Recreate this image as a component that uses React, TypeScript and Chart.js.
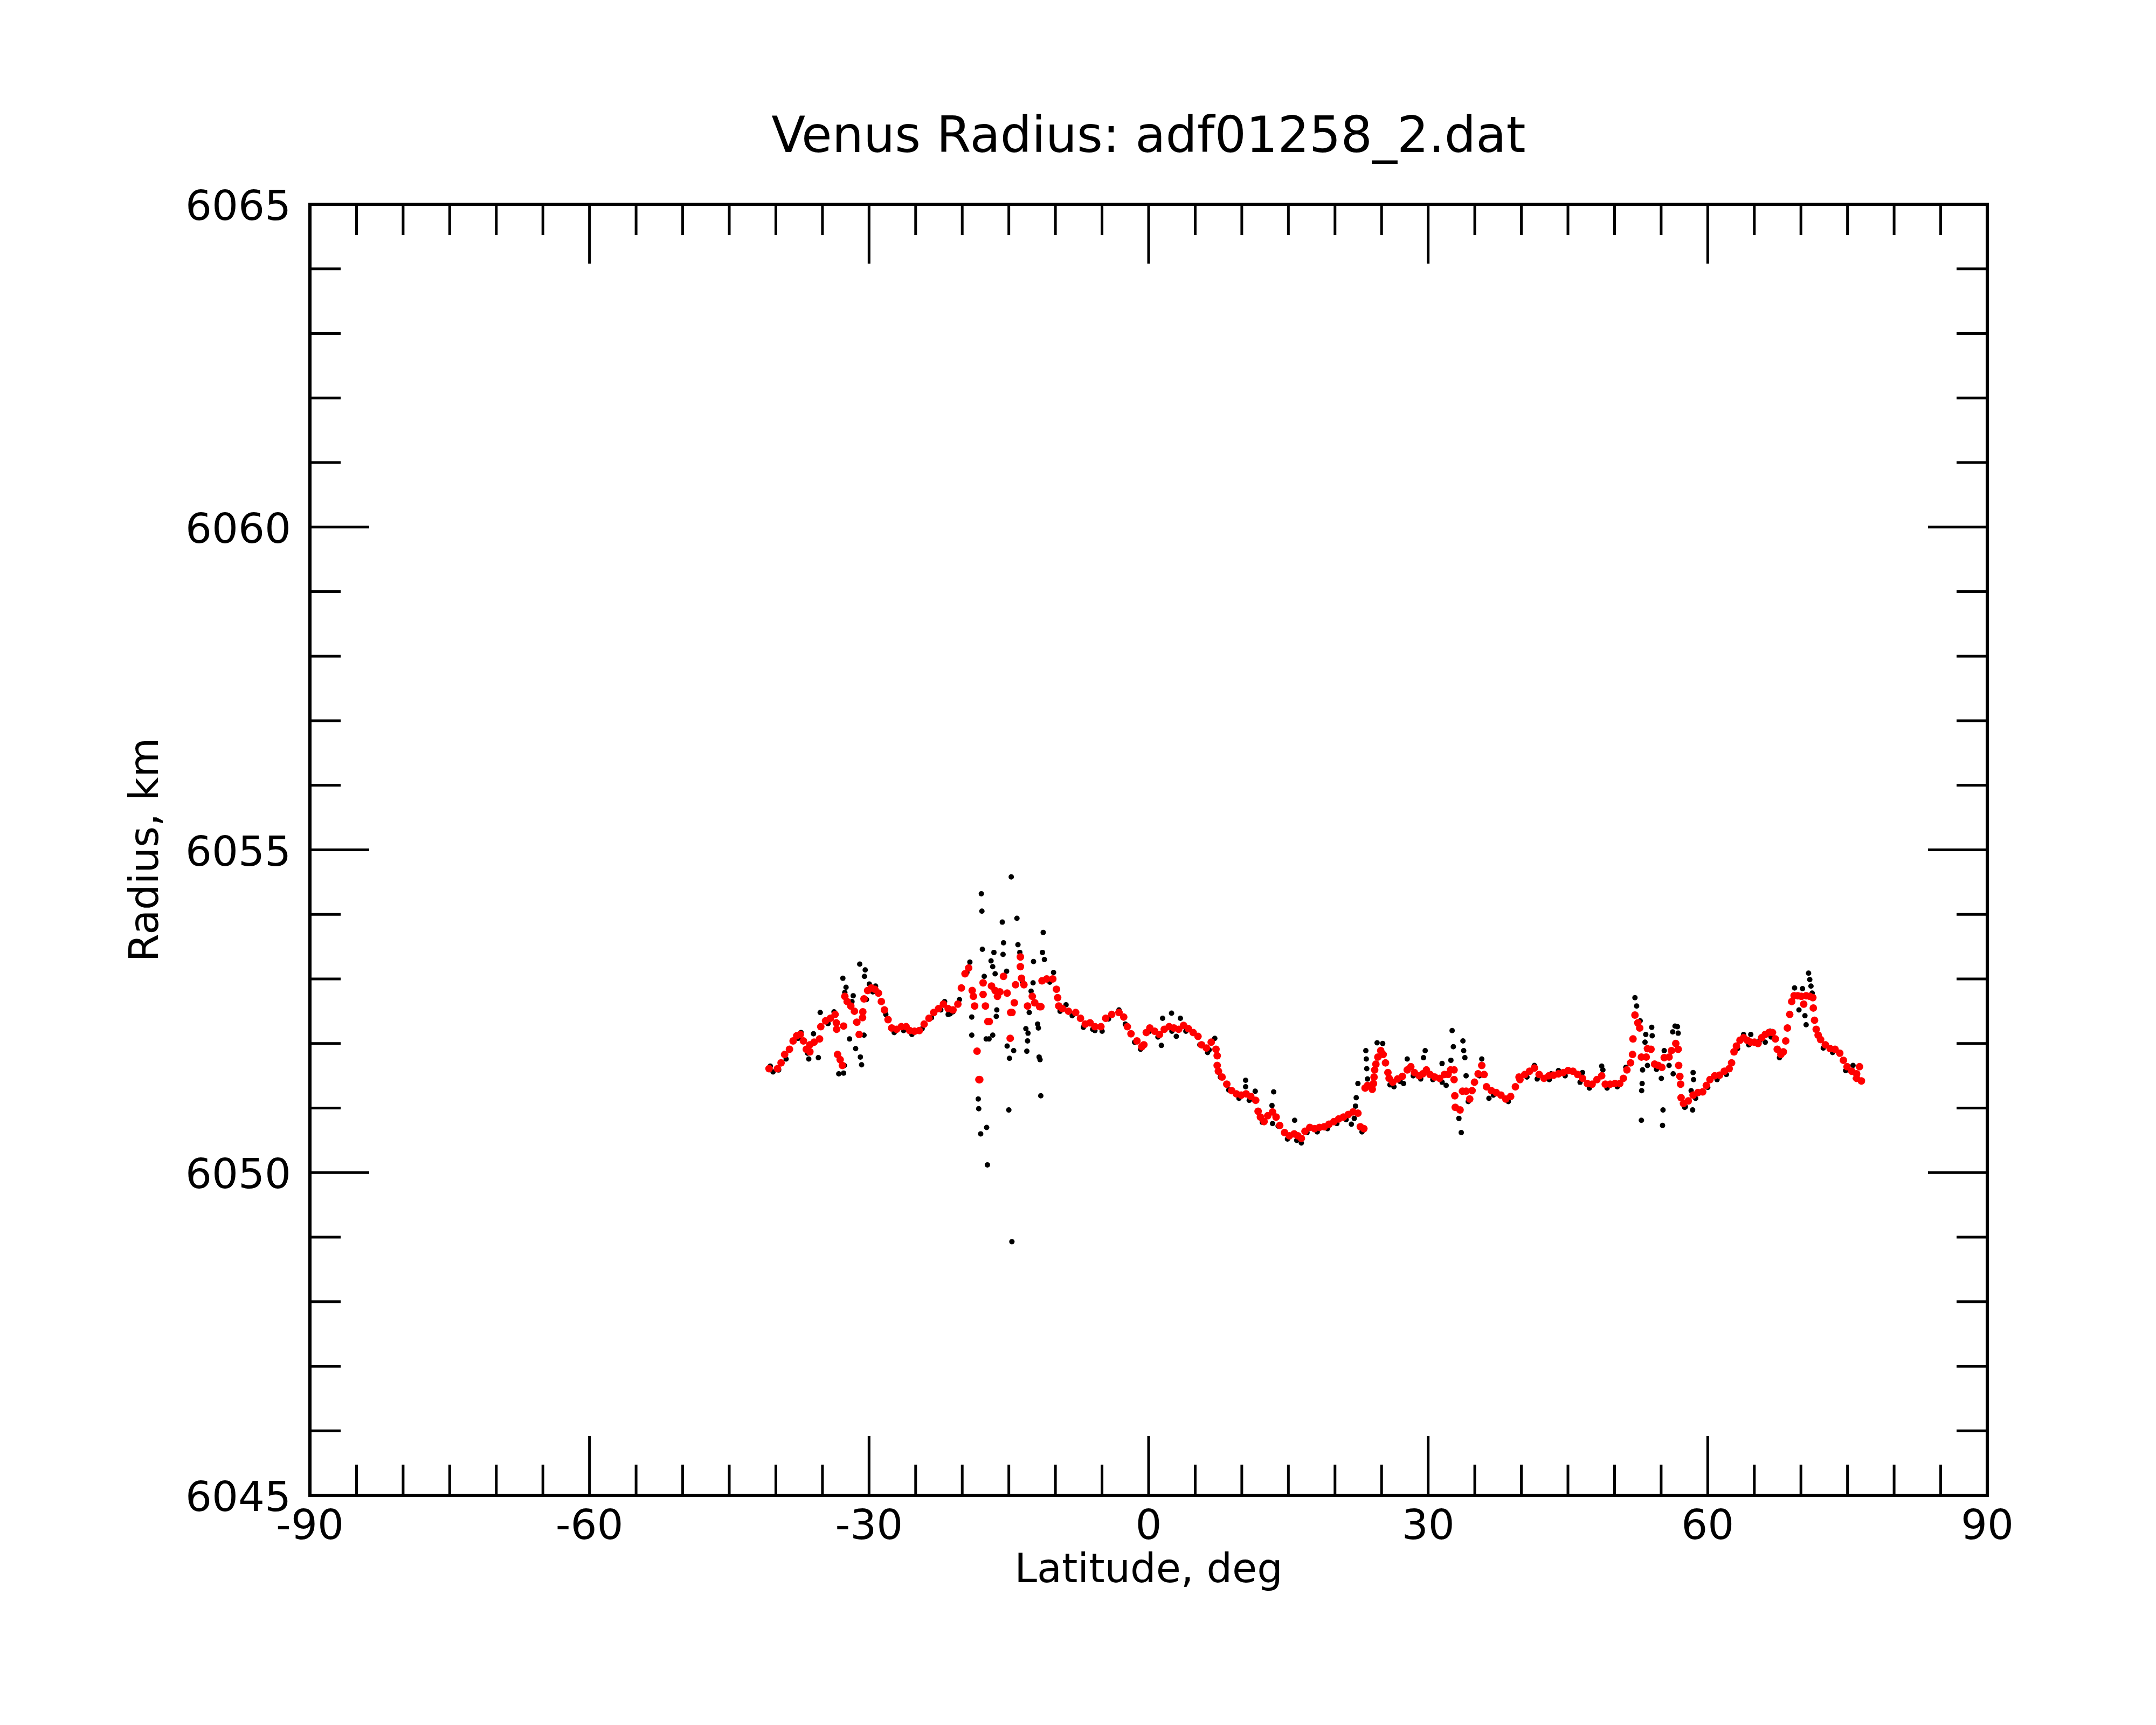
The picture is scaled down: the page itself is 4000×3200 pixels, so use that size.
import { useEffect, useRef } from "react";
import { Chart, registerables } from "chart.js";

Chart.register(...registerables);

const TITLE = "Venus Radius: adf01258_2.dat";
const X_TITLE = "Latitude, deg";
const Y_TITLE = "Radius, km";

const X_MAJOR = [-90, -60, -30, 0, 30, 60, 90];
const X_MINOR_STEP = 5;
const Y_MAJOR = [6045, 6050, 6055, 6060, 6065];
const Y_MINOR_STEP = 1;

// raw radius samples (black) [latitude, radius]
const RAW: [number, number][] = [
  [-40.6, 6051.65], [-39.7, 6051.59], [-37.3, 6052.17], [-36.47, 6051.76], [-35.44, 6051.78],
  [-35.96, 6052.15], [-35.24, 6052.48], [-33.76, 6052.49], [-32.81, 6053.01], [-32.47, 6052.87],
  [-32.6, 6052.79], [-31.7, 6052.74], [-31.83, 6052.65], [-31.0, 6053.23], [-30.41, 6053.14],
  [-30.49, 6053.04], [-29.97, 6052.92], [-29.3, 6052.89], [-32.09, 6052.07], [-31.44, 6051.92],
  [-30.93, 6051.79], [-30.8, 6051.67], [-33.25, 6051.53], [-32.73, 6051.54], [-32.65, 6051.66],
  [-31.44, 6052.33], [-30.54, 6052.13], [-30.28, 6052.68], [-21.89, 6052.65], [-21.51, 6052.45],
  [-20.99, 6052.49], [-19.18, 6053.26], [-17.95, 6054.32], [-17.89, 6054.05], [-17.84, 6053.46],
  [-18.98, 6052.41], [-18.98, 6052.13], [-18.28, 6051.14], [-18.23, 6050.99], [-17.38, 6050.7],
  [-18.02, 6050.6], [-17.3, 6050.12], [-17.64, 6053.04], [-17.43, 6052.07], [-17.12, 6052.07],
  [-16.73, 6052.13], [-16.6, 6053.41], [-16.91, 6053.28], [-16.73, 6053.19], [-16.47, 6053.08],
  [-15.7, 6053.88], [-15.57, 6053.56], [-15.62, 6053.38], [-15.24, 6053.12], [-16.29, 6052.52],
  [-16.35, 6052.42], [-15.18, 6051.96], [-14.93, 6051.77], [-14.48, 6051.89], [-15.0, 6050.97],
  [-14.74, 6054.58], [-14.13, 6053.94], [-14.02, 6053.53], [-13.82, 6053.41], [-13.51, 6052.95],
  [-13.17, 6052.23], [-12.94, 6052.16], [-12.99, 6052.04], [-13.07, 6051.88], [-12.81, 6052.48],
  [-12.61, 6052.81], [-12.4, 6052.94], [-12.35, 6053.27], [-14.67, 6048.93], [-11.91, 6052.3],
  [-11.83, 6052.24], [-11.75, 6051.79], [-11.65, 6051.75], [-11.57, 6051.19], [-11.31, 6053.72],
  [-11.39, 6053.41], [-11.18, 6053.3], [-10.2, 6053.1], [-8.86, 6052.6], [-5.76, 6052.2],
  [-4.99, 6052.19], [-3.18, 6052.52], [-0.86, 6051.91],
  [1.5, 6052.39], [2.46, 6052.47], [1.37, 6051.97], [3.41, 6052.39], [2.97, 6052.11],
  [6.33, 6051.86], [7.1, 6052.08], [10.41, 6051.43], [10.41, 6051.33], [11.44, 6051.26],
  [13.42, 6051.25], [13.24, 6051.04], [13.3, 6050.76], [15.67, 6050.81], [16.39, 6050.46],
  [21.76, 6050.75], [22.07, 6050.84], [22.46, 6051.38], [22.28, 6051.16], [22.2, 6051.03],
  [23.31, 6051.89], [23.36, 6051.76], [23.41, 6051.61], [23.49, 6051.45], [24.52, 6052.01],
  [25.12, 6052.0], [26.33, 6051.33], [27.75, 6051.76], [27.36, 6051.38], [29.68, 6051.89],
  [29.5, 6051.78], [31.49, 6051.69], [31.93, 6051.35], [32.57, 6052.2], [32.7, 6051.95],
  [32.44, 6051.74], [33.73, 6052.04], [33.81, 6051.89], [33.94, 6051.78], [34.07, 6051.5],
  [33.3, 6050.84], [33.55, 6050.62], [35.75, 6051.76], [36.52, 6051.15],
  [41.4, 6051.66], [43.2, 6051.53], [43.98, 6051.58], [46.56, 6051.55], [48.62, 6051.65],
  [48.75, 6051.59], [51.21, 6051.63], [52.19, 6052.71], [52.37, 6052.58], [52.75, 6052.35],
  [53.35, 6052.14], [53.99, 6052.25], [54.04, 6052.12], [53.27, 6052.02], [53.53, 6051.66],
  [53.01, 6051.59], [52.96, 6051.38], [52.91, 6051.27], [52.88, 6050.81], [55.2, 6050.97],
  [55.15, 6050.73], [55.02, 6051.46], [55.33, 6051.89], [55.85, 6051.66], [56.29, 6051.53],
  [56.49, 6052.27], [56.75, 6052.26], [56.83, 6052.16], [56.24, 6052.18], [58.43, 6051.55],
  [58.48, 6051.44], [58.38, 6050.97], [58.22, 6051.27], [57.53, 6051.01], [63.85, 6052.14],
  [64.62, 6052.14], [66.17, 6052.02], [66.69, 6052.19], [69.32, 6052.86], [70.17, 6052.85],
  [70.82, 6053.09], [70.95, 6052.99], [71.08, 6052.89], [69.79, 6052.52], [70.43, 6052.43],
  [70.56, 6052.29], [71.21, 6052.78], [75.59, 6051.66], [75.85, 6051.46],
  // raw samples lying just under the filtered curve
  [-40.3, 6051.56], [-38.9, 6051.76], [-37.6, 6052.08], [-36.6, 6051.85], [-34.4, 6052.31],
  [-29.6, 6052.8], [-28.2, 6052.45], [-27.3, 6052.17], [-26.3, 6052.2], [-25.4, 6052.14],
  [-24.3, 6052.23], [-23.3, 6052.4], [-22.3, 6052.52], [-21.3, 6052.46], [-20.3, 6052.68],
  [-19.5, 6053.1], [-10.6, 6052.95], [-9.5, 6052.5], [-8.2, 6052.43], [-7.0, 6052.25],
  [-6.0, 6052.22], [-4.3, 6052.38], [-2.5, 6052.3], [-1.5, 6052.02],
  [0.0, 6052.18], [1.0, 6052.1], [2.5, 6052.19], [4.0, 6052.19], [5.5, 6051.98],
  [6.5, 6051.9], [7.7, 6051.48], [8.6, 6051.28], [9.7, 6051.15], [10.8, 6051.12],
  [12.2, 6050.78], [13.9, 6050.72], [14.9, 6050.52], [15.9, 6050.5], [17.0, 6050.62],
  [18.1, 6050.63], [19.2, 6050.68], [20.2, 6050.76], [21.2, 6050.82], [22.9, 6050.63],
  [24.7, 6051.8], [25.9, 6051.36], [27.0, 6051.41], [28.4, 6051.5], [29.2, 6051.45],
  [30.5, 6051.44], [31.5, 6051.4], [34.3, 6051.1], [35.5, 6051.5], [37.0, 6051.2],
  [38.6, 6051.1],
  [40.6, 6051.48], [41.7, 6051.45], [43.0, 6051.44], [44.7, 6051.5], [46.3, 6051.4],
  [47.3, 6051.31], [49.2, 6051.31], [50.3, 6051.33], [54.5, 6051.6], [57.6, 6051.02],
  [58.7, 6051.15], [60.0, 6051.32], [61.0, 6051.44], [62.0, 6051.52], [63.2, 6051.92],
  [64.4, 6051.98], [65.6, 6052.05], [66.8, 6052.1], [67.7, 6051.78], [72.4, 6051.93],
  [73.4, 6051.86], [74.8, 6051.58], [76.0, 6051.47],
];

// filtered radius (red) [latitude, radius]
const FILTERED: [number, number][] = [
  [-40.73, 6051.61], [-39.83, 6051.61], [-39.44, 6051.7], [-39.06, 6051.83], [-38.54, 6051.91],
  [-38.15, 6052.04], [-37.76, 6052.12], [-37.38, 6052.14], [-37.04, 6052.04], [-36.73, 6051.91],
  [-36.35, 6051.87], [-36.35, 6051.98], [-35.9, 6052.02], [-35.31, 6052.07], [-35.18, 6052.26],
  [-34.67, 6052.35], [-34.15, 6052.39], [-33.64, 6052.45], [-33.51, 6052.32], [-33.48, 6052.22],
  [-33.38, 6051.83], [-33.1, 6051.75], [-32.86, 6051.66], [-32.73, 6052.27], [-32.6, 6052.73],
  [-32.35, 6052.65], [-31.96, 6052.58], [-31.57, 6052.5], [-31.31, 6052.33], [-31.06, 6052.14],
  [-30.67, 6052.49], [-30.7, 6052.4], [-30.54, 6052.69], [-30.15, 6052.82], [-29.76, 6052.86],
  [-29.38, 6052.84], [-28.99, 6052.78], [-28.68, 6052.65], [-28.35, 6052.52], [-27.96, 6052.37],
  [-27.57, 6052.24], [-27.05, 6052.22], [-26.54, 6052.26], [-26.02, 6052.26], [-25.64, 6052.2],
  [-25.12, 6052.19], [-24.6, 6052.2], [-24.09, 6052.3], [-23.57, 6052.39], [-23.06, 6052.48],
  [-22.54, 6052.54], [-22.02, 6052.61], [-21.51, 6052.54], [-20.99, 6052.52], [-20.47, 6052.61],
  [-20.09, 6052.86], [-19.7, 6053.08], [-19.31, 6053.17],
  [-18.93, 6052.82], [-18.8, 6052.73], [-18.67, 6052.58], [-18.41, 6051.88], [-18.21, 6051.44],
  [-18.12, 6051.44], [-17.76, 6052.94], [-17.76, 6052.76], [-17.51, 6052.58], [-17.25, 6052.34],
  [-17.1, 6052.34], [-16.86, 6052.89], [-16.47, 6052.82], [-16.22, 6052.73], [-15.96, 6052.8],
  [-15.57, 6053.04], [-15.18, 6052.78], [-14.8, 6052.48], [-14.66, 6052.48], [-14.85, 6052.08],
  [-14.41, 6052.63], [-14.28, 6052.91], [-13.76, 6053.34], [-13.76, 6053.19], [-13.64, 6053.01],
  [-13.38, 6052.91], [-12.99, 6052.58], [-12.48, 6052.73], [-12.22, 6052.63], [-11.7, 6052.57],
  [-11.56, 6052.57], [-11.44, 6052.97], [-10.93, 6053.0], [-10.28, 6053.0], [-9.89, 6052.84],
  [-9.76, 6052.71], [-9.64, 6052.58], [-9.25, 6052.54], [-8.6, 6052.5], [-7.83, 6052.48],
  [-7.31, 6052.39], [-6.8, 6052.3], [-6.28, 6052.32], [-5.76, 6052.26], [-5.12, 6052.26],
  [-4.6, 6052.39], [-3.96, 6052.45], [-3.18, 6052.48], [-2.67, 6052.41], [-2.28, 6052.26],
  [-1.89, 6052.15], [-1.25, 6052.04], [-0.73, 6051.95],
  [-0.51, 6051.98], [-0.25, 6052.17], [0.13, 6052.24], [0.65, 6052.19], [1.17, 6052.14],
  [1.68, 6052.22], [2.2, 6052.26], [2.71, 6052.24], [3.23, 6052.22], [3.75, 6052.28],
  [4.26, 6052.23], [4.78, 6052.17], [5.3, 6052.11], [5.68, 6051.98], [6.2, 6051.93],
  [6.72, 6052.02], [7.23, 6051.91], [7.36, 6051.81], [7.36, 6051.66], [7.49, 6051.57],
  [7.88, 6051.48], [8.39, 6051.37], [8.91, 6051.27], [9.42, 6051.22], [9.94, 6051.2],
  [10.46, 6051.22], [10.97, 6051.18], [11.49, 6051.12], [11.75, 6050.95], [12.0, 6050.86],
  [12.39, 6050.79], [12.78, 6050.88], [13.3, 6050.94], [13.68, 6050.86], [14.07, 6050.73],
  [14.59, 6050.62], [15.1, 6050.57], [15.62, 6050.6], [16.01, 6050.57], [16.39, 6050.53],
  [16.78, 6050.64], [17.3, 6050.7], [17.81, 6050.68], [18.33, 6050.7], [18.84, 6050.71],
  [19.36, 6050.75], [19.88, 6050.79], [20.39, 6050.83], [20.91, 6050.86], [21.43, 6050.9],
  [21.94, 6050.94], [22.46, 6050.92], [22.72, 6050.71], [23.1, 6050.68], [23.23, 6051.31],
  [23.49, 6051.35], [24.0, 6051.29], [24.13, 6051.38], [24.19, 6051.48], [24.26, 6051.59],
  [24.39, 6051.68], [24.6, 6051.79], [24.91, 6051.89], [25.17, 6051.83], [25.42, 6051.7],
  [25.68, 6051.55], [25.81, 6051.46], [26.2, 6051.4], [26.72, 6051.45], [27.23, 6051.49],
  [27.75, 6051.59], [28.14, 6051.64], [28.52, 6051.55], [29.04, 6051.5], [29.42, 6051.53],
  [29.81, 6051.59], [30.2, 6051.52], [30.71, 6051.48], [31.23, 6051.46], [31.75, 6051.52],
  [32.13, 6051.52], [32.39, 6051.59], [32.78, 6051.59], [32.78, 6051.44], [32.86, 6051.19],
  [32.91, 6051.01], [33.42, 6050.97], [33.68, 6051.26], [34.07, 6051.26], [34.46, 6051.14],
  [34.71, 6051.27], [34.97, 6051.4], [35.36, 6051.53], [35.75, 6051.66], [36.0, 6051.52],
  [36.26, 6051.33], [36.78, 6051.27], [37.3, 6051.24], [37.81, 6051.2], [38.33, 6051.14],
  [38.85, 6051.18], [39.36, 6051.33], [39.75, 6051.48],
  [39.85, 6051.44], [40.37, 6051.52], [40.88, 6051.57], [41.4, 6051.62], [41.91, 6051.52],
  [42.43, 6051.46], [42.95, 6051.5], [43.46, 6051.51], [43.98, 6051.53], [44.5, 6051.55],
  [45.01, 6051.58], [45.53, 6051.57], [46.04, 6051.52], [46.56, 6051.46], [47.08, 6051.38],
  [47.59, 6051.37], [48.11, 6051.44], [48.62, 6051.5], [49.01, 6051.37], [49.53, 6051.37],
  [50.04, 6051.38], [50.56, 6051.38], [50.95, 6051.46], [51.33, 6051.59], [51.72, 6051.7],
  [51.93, 6051.83], [51.98, 6052.07], [52.19, 6052.44], [52.5, 6052.32], [52.7, 6052.24],
  [52.88, 6051.79], [53.4, 6051.79], [53.53, 6051.92], [53.91, 6051.91], [54.3, 6051.68],
  [54.69, 6051.66], [55.08, 6051.63], [55.33, 6051.78], [55.85, 6051.79], [56.11, 6051.89],
  [56.57, 6052.0], [56.83, 6051.91], [56.88, 6051.66], [57.01, 6051.49], [57.09, 6051.37],
  [57.14, 6051.16], [57.4, 6051.07], [57.91, 6051.11], [58.43, 6051.2], [58.95, 6051.24],
  [59.46, 6051.25], [59.85, 6051.35], [60.24, 6051.44], [60.75, 6051.5], [61.27, 6051.51],
  [61.78, 6051.57], [62.3, 6051.61], [62.56, 6051.7], [62.82, 6051.87], [63.08, 6051.96],
  [63.46, 6052.05], [63.85, 6052.09], [64.24, 6052.05], [64.62, 6052.02], [65.01, 6052.02],
  [65.4, 6052.0], [65.79, 6052.09], [66.17, 6052.14], [66.56, 6052.17], [66.95, 6052.17],
  [67.26, 6052.07], [67.46, 6051.91], [67.85, 6051.83], [68.11, 6051.87], [68.37, 6052.04],
  [68.55, 6052.24], [68.8, 6052.45], [69.01, 6052.65], [69.27, 6052.74], [69.66, 6052.74],
  [70.04, 6052.73], [70.3, 6052.61], [70.56, 6052.74], [70.95, 6052.73], [71.28, 6052.71],
  [71.33, 6052.55], [71.46, 6052.36], [71.64, 6052.22], [71.85, 6052.13], [72.11, 6052.06],
  [72.62, 6051.98], [73.14, 6051.92], [73.66, 6051.91], [74.17, 6051.85], [74.56, 6051.74],
  [74.95, 6051.64], [75.46, 6051.57], [75.98, 6051.53], [76.29, 6051.64], [75.98, 6051.46],
  [76.49, 6051.42],
];

const FONT = "'DejaVu Sans', sans-serif";

function range(from: number, to: number, step: number) {
  const out: number[] = [];
  for (let v = from; v <= to + 1e-9; v += step) out.push(v);
  return out;
}

// frame, inward ticks on all four sides, labels and titles
const framePlugin = {
  id: "idlFrame",
  beforeDraw(chart: Chart) {
    const { ctx, width, height } = chart;
    ctx.save();
    ctx.fillStyle = "#ffffff";
    ctx.fillRect(0, 0, width, height);
    ctx.restore();
  },
  afterDraw(chart: Chart) {
    const { ctx, chartArea } = chart;
    const { left, right, top, bottom } = chartArea;
    const xs = chart.scales.x;
    const ys = chart.scales.y;
    const majorLen = 110;
    const minorLen = 57;

    ctx.save();
    ctx.strokeStyle = "#000000";
    ctx.lineCap = "butt";

    ctx.lineWidth = 5;
    ctx.beginPath();
    range(X_MAJOR[0], X_MAJOR[X_MAJOR.length - 1], X_MINOR_STEP).forEach((v) => {
      const px = xs.getPixelForValue(v);
      const len = X_MAJOR.includes(v) ? majorLen : minorLen;
      ctx.moveTo(px, bottom);
      ctx.lineTo(px, bottom - len);
      ctx.moveTo(px, top);
      ctx.lineTo(px, top + len);
    });
    range(Y_MAJOR[0], Y_MAJOR[Y_MAJOR.length - 1], Y_MINOR_STEP).forEach((v) => {
      const py = ys.getPixelForValue(v);
      const len = Y_MAJOR.includes(v) ? majorLen : minorLen;
      ctx.moveTo(left, py);
      ctx.lineTo(left + len, py);
      ctx.moveTo(right, py);
      ctx.lineTo(right - len, py);
    });
    ctx.stroke();

    ctx.lineWidth = 6;
    ctx.strokeRect(left, top, right - left, bottom - top);

    ctx.fillStyle = "#000000";
    ctx.font = `77px ${FONT}`;
    ctx.textBaseline = "alphabetic";

    ctx.textAlign = "center";
    X_MAJOR.forEach((v) => {
      ctx.fillText(String(v), xs.getPixelForValue(v), bottom + 81);
    });

    ctx.textAlign = "right";
    Y_MAJOR.forEach((v) => {
      ctx.fillText(String(v), left - 35, ys.getPixelForValue(v) + 29);
    });

    ctx.font = `75px ${FONT}`;
    ctx.textAlign = "center";
    ctx.fillText(X_TITLE, (left + right) / 2, bottom + 161);

    ctx.save();
    ctx.translate(293, (top + bottom) / 2);
    ctx.rotate(-Math.PI / 2);
    ctx.fillText(Y_TITLE, 0, 0);
    ctx.restore();

    ctx.font = `92px ${FONT}`;
    ctx.fillText(TITLE, (left + right) / 2, 282);
    ctx.restore();
  },
};

export default function App() {
  const canvasRef = useRef<HTMLCanvasElement>(null);

  useEffect(() => {
    if (!canvasRef.current) return;
    document.body.style.margin = "0";

    const chart = new Chart(canvasRef.current, {
      type: "scatter",
      data: {
        datasets: [
          {
            label: "filtered",
            data: FILTERED.map(([x, y]) => ({ x, y })),
            backgroundColor: "#ff0000",
            borderWidth: 0,
            pointRadius: 7,
            order: 0,
          },
          {
            label: "raw",
            data: RAW.map(([x, y]) => ({ x, y })),
            backgroundColor: "#000000",
            borderWidth: 0,
            pointRadius: 5,
            order: 1,
          },
        ],
      },
      options: {
        responsive: false,
        animation: false,
        devicePixelRatio: 1,
        layout: { padding: { left: 575, right: 313, top: 379, bottom: 426 } },
        plugins: {
          legend: { display: false },
          tooltip: { enabled: false },
          title: { display: false },
        },
        scales: {
          x: { type: "linear", display: false, min: -90, max: 90 },
          y: { type: "linear", display: false, min: 6045, max: 6065 },
        },
      },
      plugins: [framePlugin],
    });

    return () => chart.destroy();
  }, []);

  return (
    <div style={{ position: "fixed", left: 0, top: 0, width: 4000, height: 3200, background: "#ffffff" }}>
      <canvas ref={canvasRef} width={4000} height={3200} style={{ width: 4000, height: 3200 }} />
    </div>
  );
}
